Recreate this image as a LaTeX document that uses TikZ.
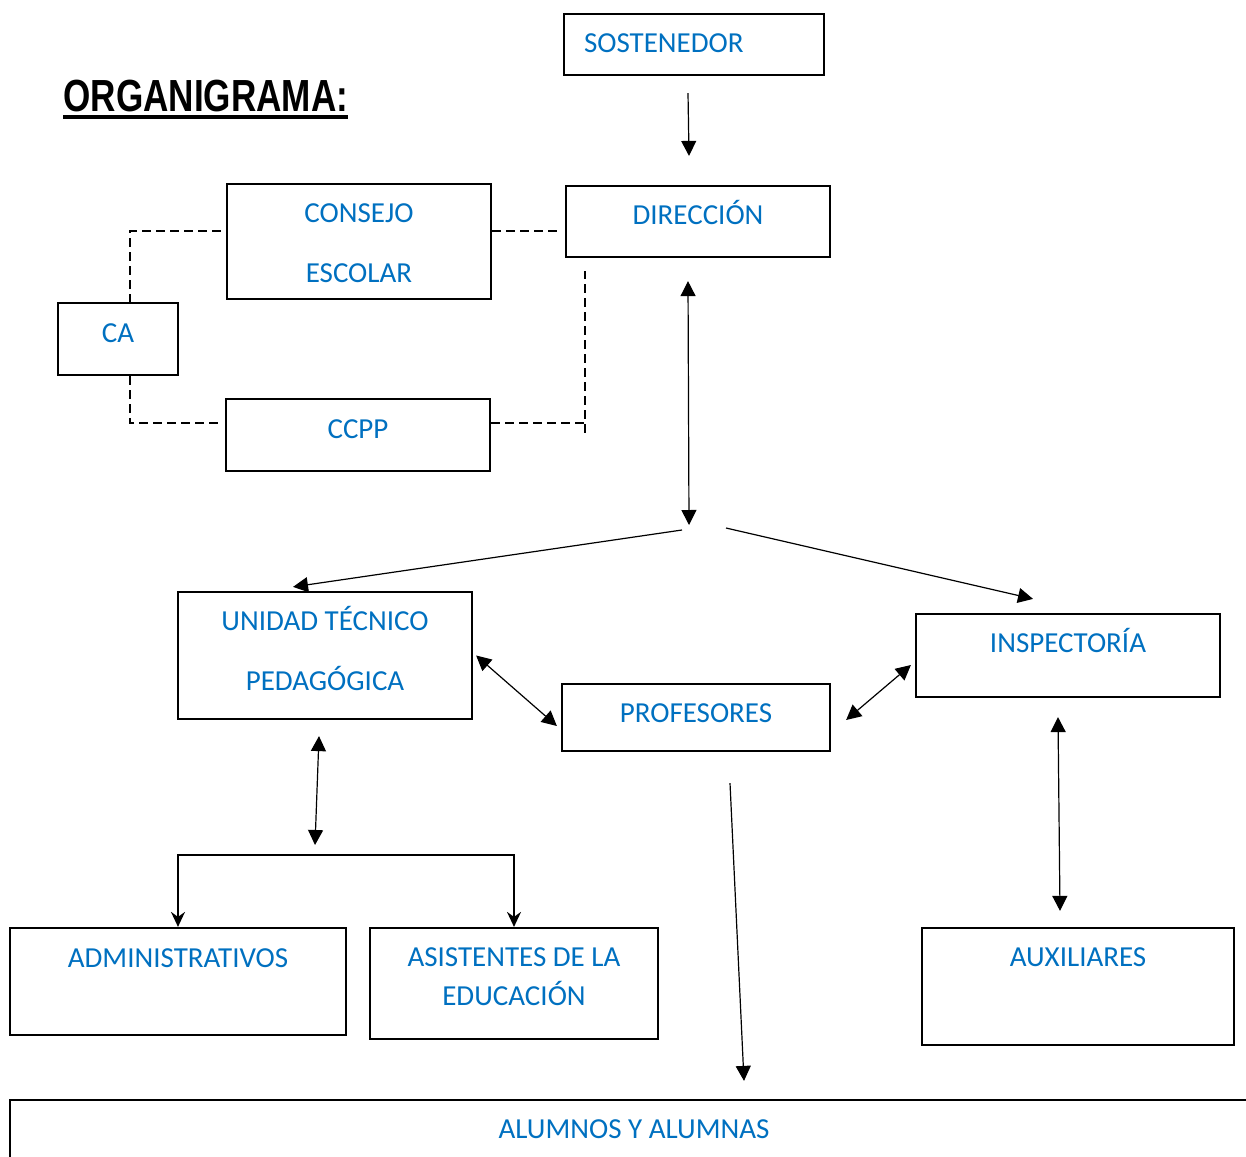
\documentclass[tikz,border=0pt]{standalone}
\usepackage{fontspec}
\setmainfont{Carlito}
\newfontfamily\titulofont[FakeStretch=0.78]{Liberation Sans}
\usetikzlibrary{arrows.meta}
\definecolor{azul}{HTML}{0070C0}

\tikzset{
  caja/.style={draw, line width=1.1pt, inner sep=0pt, text=azul,
    font=\fontsize{14.5pt}{17.5pt}\selectfont, text height=10pt},
  flecha/.style={line width=0.6pt, -{Triangle[length=7.5pt,width=7.5pt]}},
  dobleflecha/.style={line width=0.6pt,
    {Triangle[length=7.5pt,width=7.5pt]}-{Triangle[length=7.5pt,width=7.5pt]}},
  ramas/.style={line width=1pt,
    {Stealth[length=7.5pt,width=7pt,inset=2.5pt]}-{Stealth[length=7.5pt,width=7pt,inset=2.5pt]}},
  enlace/.style={line width=1pt, dash pattern=on 4.5pt off 2.5pt}
}

\begin{document}
\begin{tikzpicture}[x=0.5pt,y=-0.5pt]
\useasboundingbox (0,0) rectangle (1246,1156);
\clip (0,0) rectangle (1246,1156);

\node (titulo) at (63,112) [anchor=base west, inner sep=0pt,
  font=\titulofont\bfseries\fontsize{22.5pt}{27pt}\selectfont] {ORGANIGRAMA:};
\draw [line width=1.6pt] ([yshift=-2.5pt]titulo.base west) -- ([yshift=-2.5pt]titulo.base east);

\node (sost) at (694,44.5) [caja, minimum width=130pt, minimum height=30.5pt,
  text width=110pt, align=left, text depth=2.2pt] {SOSTENEDOR};
\node (dir) at (698,221.5) [caja, minimum width=132pt, minimum height=35.5pt, text depth=7.2pt] {DIRECCIÓN};
\node (consejo) at (359,241.5) [caja, minimum width=132pt, minimum height=57.5pt,
  text width=120pt, align=flush center, font=\fontsize{14.5pt}{30pt}\selectfont, text depth=29.2pt] {CONSEJO\\ESCOLAR};
\node (ca) at (118,339) [caja, minimum width=60pt, minimum height=36pt, text depth=6.7pt] {CA};
\node (ccpp) at (358,435) [caja, minimum width=132pt, minimum height=36pt, text depth=6.7pt] {CCPP};
\node (utp) at (325,655.5) [caja, minimum width=147pt, minimum height=63.5pt,
  text width=140pt, align=flush center, font=\fontsize{14.5pt}{30pt}\selectfont, text depth=35.2pt] {UNIDAD TÉCNICO\\PEDAGÓGICA};
\node (prof) at (696,717.5) [caja, minimum width=134pt, minimum height=33.5pt, text depth=5.2pt] {PROFESORES};
\node (insp) at (1068,655.5) [caja, minimum width=152pt, minimum height=41.5pt, text depth=13.2pt] {INSPECTORÍA};
\node (admin) at (178,981.5) [caja, minimum width=168pt, minimum height=53.5pt, text depth=24.2pt] {ADMINISTRATIVOS};
\node (asist) at (514,983.5) [caja, minimum width=144pt, minimum height=55.5pt,
  text width=136pt, align=flush center, font=\fontsize{14.5pt}{19.5pt}\selectfont, text depth=27.2pt] {ASISTENTES DE LA\\EDUCACIÓN};
\node (aux) at (1078,986.5) [caja, minimum width=156pt, minimum height=58.5pt, text depth=30.2pt] {AUXILIARES};
\node (alumnos) at (634,1135) [caja, minimum width=624pt, minimum height=35pt, text depth=6.7pt] {ALUMNOS Y ALUMNAS};

\coordinate (centro) at (689,525);
\coordinate (ramaI) at (682,530);
\coordinate (ramaD) at (726,528);
\coordinate (barra) at (315,855);

% consejos (punteado)
\draw [enlace] ([xshift=-2.5pt,yshift=5.25pt]consejo.west) -| ([xshift=6pt]ca.north);
\draw [enlace] ([xshift=6pt]ca.south) |- ([xshift=-2.5pt,yshift=6pt]ccpp.west);
\draw [enlace] ([yshift=5.25pt]consejo.east) -- ([xshift=-2pt,yshift=-4.75pt]dir.west);
\draw [enlace] ([yshift=6pt]ccpp.east) -| ([xshift=-56.5pt,yshift=-6.5pt]dir.south);
\draw [enlace] ([xshift=-56.5pt,yshift=-83pt]dir.south) -- ([xshift=-56.5pt,yshift=-87.5pt]dir.south);

\draw [flecha] ([xshift=-3pt,yshift=-8.5pt]sost.south) -- ([xshift=-4.5pt,yshift=14.5pt]dir.north);
\draw [dobleflecha] ([xshift=-5pt,yshift=-11.5pt]dir.south) -- (centro);
\draw [flecha] (ramaI) -- ([xshift=-16pt,yshift=2pt]utp.north);
\draw [flecha] (ramaD) -- ([xshift=-17.5pt,yshift=7pt]insp.north);
\draw [dobleflecha] ([xshift=1.5pt]utp.east) -- ([xshift=-2pt,yshift=-4.25pt]prof.west);
\draw [dobleflecha] ([xshift=7.5pt,yshift=-1.25pt]prof.east) -- ([xshift=-2pt,yshift=-4.75pt]insp.west);
\draw [dobleflecha] ([xshift=-3pt,yshift=-8pt]utp.south) -- ([yshift=5pt]barra);
\draw [ramas] (admin.north) |- (barra) -| (asist.north);
\draw [dobleflecha] ([xshift=-5pt,yshift=-9.5pt]insp.south) -- ([xshift=-9pt,yshift=8pt]aux.north);
\draw [flecha] ([xshift=17pt,yshift=-15.5pt]prof.south) -- ([xshift=55pt,yshift=9pt]alumnos.north);

\end{tikzpicture}
\end{document}
